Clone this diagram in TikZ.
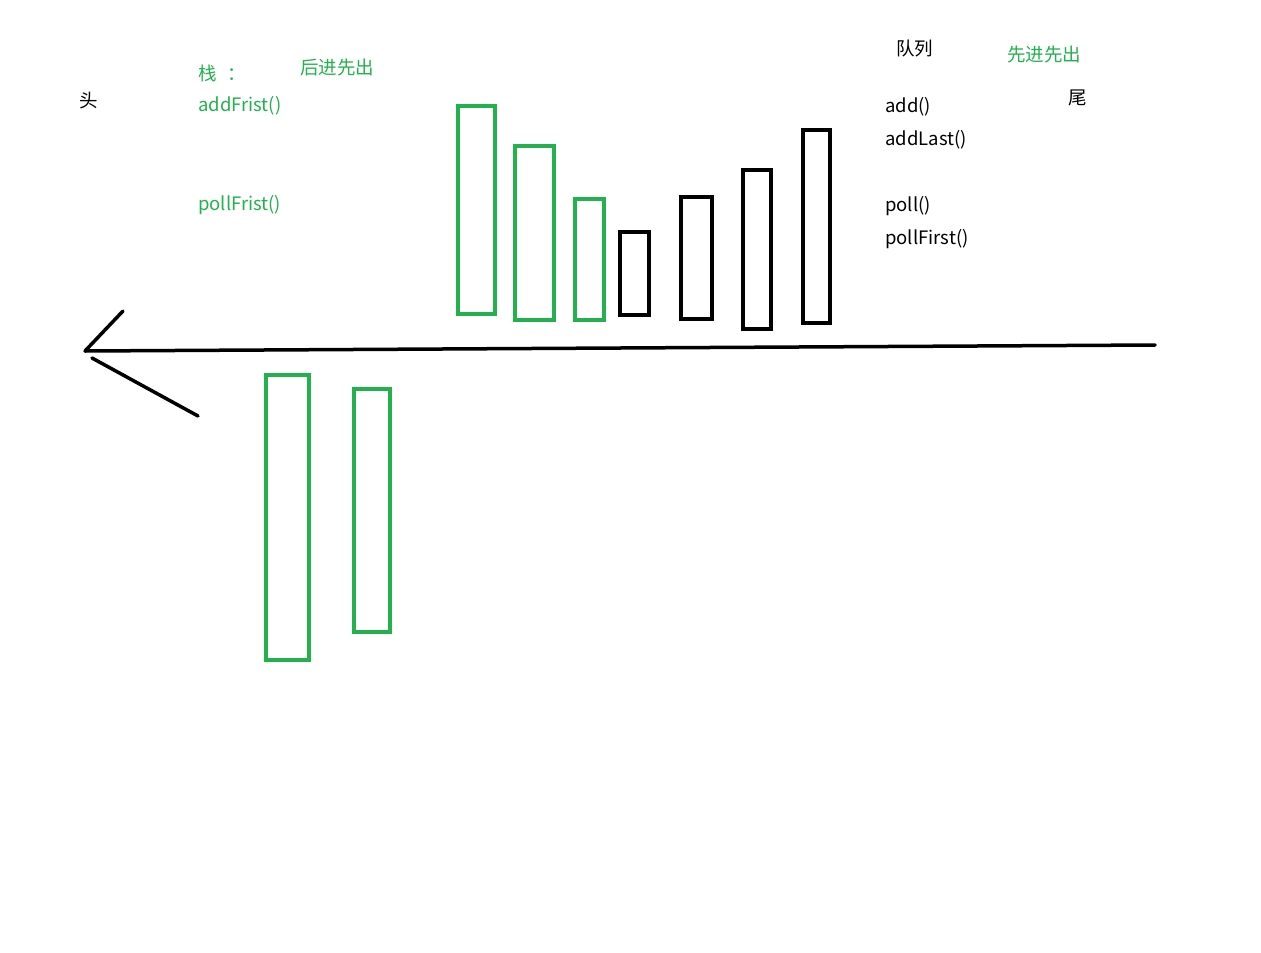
\documentclass[tikz,border=0pt]{standalone}
\usepackage{fontspec}
\setmainfont{Noto Sans CJK SC}
\definecolor{pgreen}{RGB}{34,177,76}
\begin{document}
\begin{tikzpicture}[x=1pt,y=-1pt,
  gbox/.style={draw=pgreen,line width=3.5pt},
  kbox/.style={draw=black,line width=3.5pt},
  axis/.style={draw=black,line width=3.5pt,line cap=round},
  lbl/.style={anchor=west,inner sep=0pt,font=\fontsize{18.5}{20}\selectfont},
  glbl/.style={lbl,text=pgreen}]
\useasboundingbox (0,0) rectangle (1261,953);
% top green
\draw[gbox] (458,106) rectangle (495,314);
\draw[gbox] (515,146) rectangle (554,320);
\draw[gbox] (575,199) rectangle (604,320);
% top black
\draw[kbox] (620,232) rectangle (649,315);
\draw[kbox] (681,197) rectangle (712,319);
\draw[kbox] (743,170) rectangle (771,329);
\draw[kbox] (803,130) rectangle (830,323);
% bottom green
\draw[gbox] (266,375) rectangle (309,660);
\draw[gbox] (354,389) rectangle (390,632);
% axis
\coordinate (tail) at (1155,345);
\coordinate (tip) at (85,351);
\coordinate (w1) at (123,311);
\coordinate (w2a) at (92,358);
\coordinate (w2b) at (198,416);
\draw[axis] (tail) -- (tip);
\draw[axis] (tip) -- (w1);
\draw[axis] (w2a) -- (w2b);
% labels
\node[lbl] (tou) at (79,101) {头};
\node[glbl] (zhan) at (198,73) {栈\hspace{0.6em}：};
\node[glbl] (hj) at (300,68) {后进先出};
\node[glbl] (af) at (198,106) {addFrist()};
\node[glbl] (pf) at (198,205) {pollFrist()};
\node[lbl] (dl) at (896,49) {队列};
\node[glbl] (xj) at (1007,55) {先进先出};
\node[lbl] (wei) at (1068,98) {尾};
\node[lbl] (add) at (885,107) {add()};
\node[lbl] (al) at (885,140) {addLast()};
\node[lbl] (poll) at (885,206) {poll()};
\node[lbl] (pfirst) at (885,239) {pollFirst()};
\end{tikzpicture}
\end{document}
